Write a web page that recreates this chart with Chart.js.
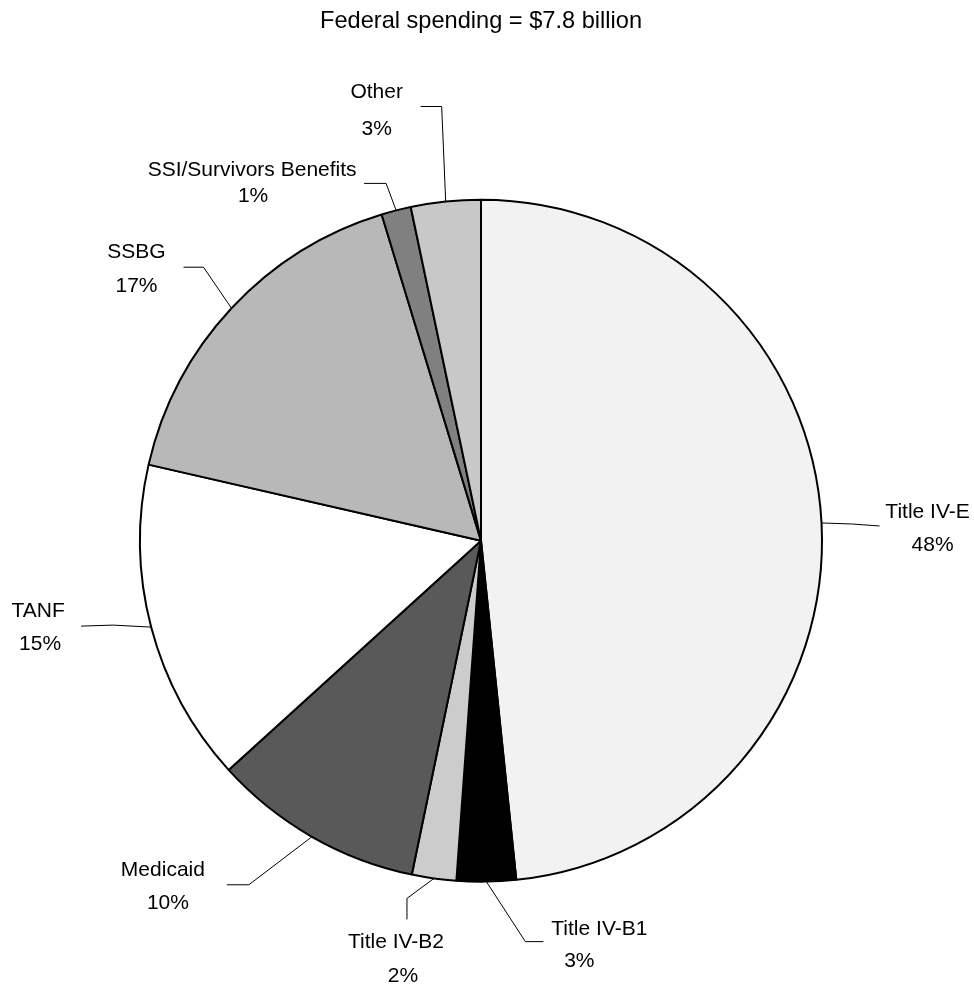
<!DOCTYPE html>
<html>
<head>
<meta charset="utf-8">
<script src="https://cdn.jsdelivr.net/npm/chart.js@4.4.1/dist/chart.umd.min.js"></script>
<style>
  html, body { margin: 0; padding: 0; background: #fff; }
  #wrap { position: relative; width: 974px; height: 987px; }
</style>
</head>
<body>
<div id="wrap"><canvas id="context"></canvas></div>
<script>
// Federal child welfare spending by funding source (share of $7.8 billion)
const categories = ['Title IV-E', 'Title IV-B1', 'Title IV-B2', 'Medicaid', 'TANF', 'SSBG', 'SSI/Survivors Benefits', 'Other'];
const shares = [48.3, 2.8, 2.1, 10.0, 15.3, 16.7, 1.4, 3.3];
const sliceColours = ['#f2f2f2', '#000000', '#cccccc', '#595959', '#ffffff', '#b8b8b8', '#808080', '#c8c8c8'];
const chartTitle = 'Federal spending = $7.8 billion';

// leader line geometry per slice, offsets from the point on the rim at the slice's mid angle
// elbow, tail end, then centre of the name line and of the percent line
const leaders = [
  { elbow: [30, 1], tail: [58, 3], name: [106, -11], pct: [111, 22] },
  { elbow: [39, 60], tail: [57, 60], name: [113, 48], pct: [93, 80] },
  { elbow: [-27, 20], tail: [-27, 41], name: [-38, 64], pct: [-31, 98] },
  { elbow: [-63, 48], tail: [-85, 48], name: [-149, 33], pct: [-144, 66] },
  { elbow: [-38, -2], tail: [-70, -1], name: [-113, -16], pct: [-111, 17] },
  { elbow: [-28, -41], tail: [-48, -41], name: [-95, -56], pct: [-95, -22] },
  { elbow: [-10, -27], tail: [-32, -27], name: [-144, -40], pct: [-143, -14] },
  { elbow: [-4, -95], tail: [-25, -95], name: [-69, -109], pct: [-69, -72] }
];

const FONT = '"Liberation Sans", Arial, sans-serif';

/**
 * Draws the callout labels with their leader lines
 */
const calloutLabels = {
  id: 'calloutLabels',
  afterDatasetsDraw(chart) {
    const ctx = chart.ctx;
    const meta = chart.getDatasetMeta(0);
    ctx.save();
    ctx.strokeStyle = '#000';
    ctx.lineWidth = 1;
    ctx.fillStyle = '#000';
    ctx.font = '21px ' + FONT;
    ctx.textAlign = 'center';
    ctx.textBaseline = 'middle';

    meta.data.forEach((arc, i) => {
      const { x, y, outerRadius, startAngle, endAngle } = arc.getProps(['x', 'y', 'outerRadius', 'startAngle', 'endAngle'], true);
      const mid = (startAngle + endAngle) / 2;
      const ax = x + Math.cos(mid) * outerRadius;
      const ay = y + Math.sin(mid) * outerRadius;
      const l = leaders[i];

      ctx.beginPath();
      ctx.moveTo(ax, ay);
      ctx.lineTo(ax + l.elbow[0], ay + l.elbow[1]);
      ctx.lineTo(ax + l.tail[0], ay + l.tail[1]);
      ctx.stroke();

      ctx.fillText(categories[i], ax + l.name[0], ay + l.name[1]);
      ctx.fillText(Math.round(shares[i]) + '%', ax + l.pct[0], ay + l.pct[1]);
    });
    ctx.restore();
  }
};

new Chart(document.getElementById('context'), {
  type: 'pie',
  data: {
    labels: categories,
    datasets: [{
      data: shares,
      backgroundColor: sliceColours,
      borderColor: '#000',
      borderWidth: 2,
      hoverOffset: 0,
      offset: 0
    }]
  },
  options: {
    responsive: true,
    maintainAspectRatio: false,
    animation: false,
    events: [],
    layout: { padding: { left: 139, right: 151, top: 0, bottom: 104 } },
    plugins: {
      legend: { display: false },
      tooltip: { enabled: false },
      title: {
        display: true,
        text: chartTitle,
        color: '#000',
        font: { family: FONT, size: 23.6, weight: 'normal' },
        padding: { top: 7, bottom: 163 }
      }
    }
  },
  plugins: [calloutLabels]
});
</script>
</body>
</html>
